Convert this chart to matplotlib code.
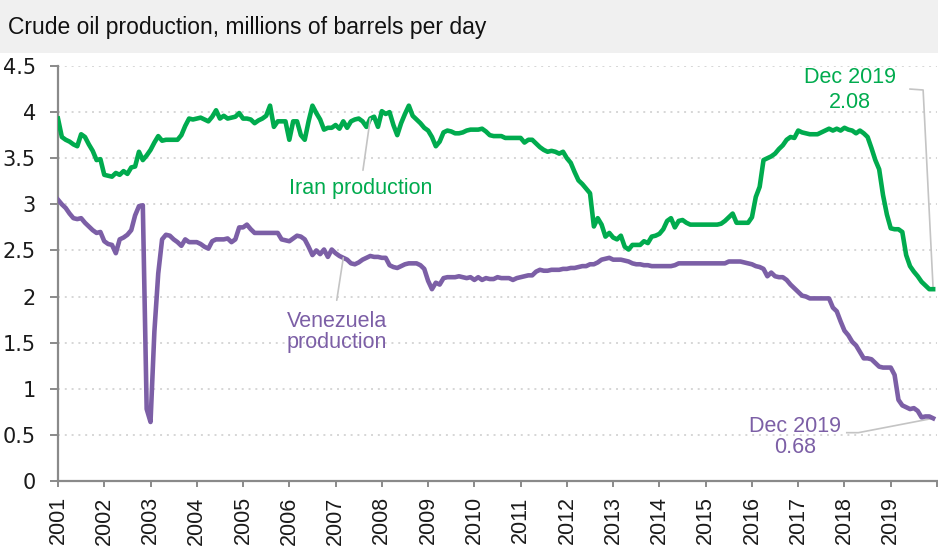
import numpy as np
import matplotlib
matplotlib.use("Agg")
import matplotlib.pyplot as plt
from matplotlib.patches import Rectangle

# %% data: monthly crude oil production, Jan 2001 - Dec 2019 (million barrels/day)
years = list(range(2001, 2020))

iran = [
    3.93, 3.73, 3.70, 3.68, 3.65, 3.63, 3.76, 3.73, 3.65, 3.58, 3.48, 3.49,  # 2001
    3.32, 3.31, 3.30, 3.34, 3.32, 3.36, 3.33, 3.40, 3.41, 3.57, 3.48, 3.53,  # 2002
    3.59, 3.67, 3.74, 3.69, 3.70, 3.70, 3.70, 3.70, 3.75, 3.85, 3.93, 3.92,  # 2003
    3.93, 3.94, 3.92, 3.90, 3.95, 4.02, 3.93, 3.96, 3.93, 3.94, 3.95, 3.99,  # 2004
    3.93, 3.93, 3.92, 3.88, 3.91, 3.93, 3.96, 4.07, 3.84, 3.90, 3.90, 3.90,  # 2005
    3.70, 3.90, 3.90, 3.75, 3.70, 3.90, 4.07, 3.99, 3.92, 3.81, 3.83, 3.83,  # 2006
    3.86, 3.82, 3.90, 3.83, 3.90, 3.92, 3.93, 3.90, 3.84, 3.93, 3.95, 3.84,  # 2007
    4.01, 3.98, 4.00, 3.86, 3.75, 3.88, 3.98, 4.07, 3.96, 3.92, 3.88, 3.83,  # 2008
    3.80, 3.73, 3.63, 3.68, 3.78, 3.80, 3.79, 3.77, 3.77, 3.78, 3.80, 3.81,  # 2009
    3.81, 3.81, 3.82, 3.79, 3.75, 3.74, 3.74, 3.74, 3.72, 3.72, 3.72, 3.72,  # 2010
    3.72, 3.67, 3.70, 3.70, 3.66, 3.62, 3.59, 3.57, 3.58, 3.57, 3.55, 3.57,  # 2011
    3.50, 3.45, 3.35, 3.26, 3.22, 3.17, 3.12, 2.76, 2.85, 2.78, 2.65, 2.69,  # 2012
    2.64, 2.62, 2.66, 2.54, 2.51, 2.56, 2.56, 2.56, 2.60, 2.58, 2.65, 2.66,  # 2013
    2.68, 2.73, 2.82, 2.85, 2.75, 2.82, 2.83, 2.80, 2.78, 2.78, 2.78, 2.78,  # 2014
    2.78, 2.78, 2.78, 2.78, 2.79, 2.82, 2.86, 2.90, 2.80, 2.80, 2.80, 2.80,  # 2015
    2.86, 3.08, 3.19, 3.48, 3.50, 3.52, 3.55, 3.60, 3.64, 3.70, 3.73, 3.72,  # 2016
    3.80, 3.78, 3.77, 3.76, 3.76, 3.76, 3.78, 3.80, 3.82, 3.80, 3.82, 3.80,  # 2017
    3.83, 3.81, 3.80, 3.77, 3.80, 3.77, 3.73, 3.61, 3.48, 3.38, 3.10, 2.89,  # 2018
    2.74, 2.73, 2.73, 2.70, 2.45, 2.33, 2.27, 2.22, 2.16, 2.12, 2.08, 2.08,  # 2019
]

venezuela = [
    3.05, 3.00, 2.96, 2.90, 2.85, 2.84, 2.85, 2.80, 2.76, 2.72, 2.69, 2.70,  # 2001
    2.60, 2.57, 2.56, 2.47, 2.62, 2.64, 2.67, 2.72, 2.88, 2.98, 2.99, 0.78,  # 2002
    0.64, 1.62, 2.25, 2.62, 2.67, 2.66, 2.62, 2.59, 2.55, 2.62, 2.59, 2.59,  # 2003
    2.59, 2.57, 2.54, 2.52, 2.60, 2.62, 2.62, 2.62, 2.63, 2.59, 2.62, 2.75,  # 2004
    2.75, 2.78, 2.73, 2.69, 2.69, 2.69, 2.69, 2.69, 2.69, 2.69, 2.62, 2.61,  # 2005
    2.60, 2.63, 2.66, 2.65, 2.62, 2.54, 2.45, 2.50, 2.46, 2.51, 2.43, 2.51,  # 2006
    2.47, 2.44, 2.42, 2.40, 2.36, 2.35, 2.37, 2.40, 2.42, 2.44, 2.43, 2.43,  # 2007
    2.42, 2.42, 2.34, 2.32, 2.31, 2.33, 2.35, 2.36, 2.36, 2.36, 2.34, 2.30,  # 2008
    2.17, 2.08, 2.15, 2.13, 2.20, 2.21, 2.21, 2.21, 2.22, 2.21, 2.20, 2.21,  # 2009
    2.18, 2.21, 2.18, 2.20, 2.19, 2.19, 2.21, 2.20, 2.20, 2.20, 2.18, 2.20,  # 2010
    2.21, 2.22, 2.23, 2.23, 2.27, 2.29, 2.28, 2.28, 2.29, 2.29, 2.29, 2.30,  # 2011
    2.30, 2.31, 2.31, 2.32, 2.33, 2.33, 2.35, 2.35, 2.37, 2.40, 2.41, 2.42,  # 2012
    2.40, 2.40, 2.40, 2.39, 2.38, 2.36, 2.35, 2.35, 2.34, 2.34, 2.33, 2.33,  # 2013
    2.33, 2.33, 2.33, 2.33, 2.34, 2.36, 2.36, 2.36, 2.36, 2.36, 2.36, 2.36,  # 2014
    2.36, 2.36, 2.36, 2.36, 2.36, 2.36, 2.38, 2.38, 2.38, 2.38, 2.37, 2.36,  # 2015
    2.35, 2.33, 2.32, 2.30, 2.22, 2.26, 2.22, 2.21, 2.21, 2.18, 2.13, 2.09,  # 2016
    2.05, 2.01, 2.00, 1.98, 1.98, 1.98, 1.98, 1.98, 1.98, 1.88, 1.84, 1.73,  # 2017
    1.63, 1.58, 1.51, 1.47, 1.40, 1.33, 1.33, 1.32, 1.28, 1.24, 1.23, 1.23,  # 2018
    1.23, 1.15, 0.88, 0.82, 0.80, 0.78, 0.79, 0.76, 0.69, 0.70, 0.70, 0.68,  # 2019
]

y_ticks = [0, 0.5, 1, 1.5, 2, 2.5, 3, 3.5, 4, 4.5]
y_labels = ['0', '0.5', '1', '1.5', '2', '2.5', '3', '3.5', '4', '4.5']

# %% styling
green = '#00ab4e'
purple = '#7c5fa6'
axis_grey = '#8a8a8a'
leader_grey = '#c4c4c4'

months = np.arange(len(iran))

fig = plt.figure(figsize=(9.38, 5.5), dpi=100)
fig.add_artist(Rectangle((0, 1 - 53 / 550), 1, 53 / 550, transform=fig.transFigure,
                         facecolor='#f0f0f0', edgecolor='none', zorder=0))
fig.text(8 / 938, 1 - 34 / 550, 'Crude oil production, millions of barrels per day',
         family='Liberation Sans', fontsize=16.5, color='#111111', va='baseline', ha='left')

ax = fig.add_axes([58 / 938, 1 - 481 / 550, 879 / 938, 415 / 550])

ax.plot(months, iran, color=green, lw=3.3, solid_joinstyle='round', zorder=3)
ax.plot(months, venezuela, color=purple, lw=3.3, solid_joinstyle='round', zorder=3)

ax.set_xlim(0, 12 * len(years))
ax.set_ylim(0, 4.5)

# grid
for yv in y_ticks[1:]:
    ax.axhline(yv, color='#d6d6d6', lw=1.4, ls=(0, (1, 2.5)), zorder=1)

# axes
for s in ['top', 'right']:
    ax.spines[s].set_visible(False)
for s in ['left', 'bottom']:
    ax.spines[s].set_color(axis_grey)
    ax.spines[s].set_linewidth(1.6)

ax.set_yticks(y_ticks)
ax.set_yticklabels(y_labels, family='DejaVu Sans', fontsize=15, color='#1a1a1a')
ax.tick_params(axis='y', length=6, width=1.4, color=axis_grey, pad=10)

ax.set_xticks(np.arange(0, 12 * len(years) + 1, 12))
ax.set_xticklabels([str(y) for y in years] + [''], rotation=90,
                   family='Liberation Sans', fontsize=15.5, color='#1a1a1a')
ax.tick_params(axis='x', length=4, width=1.4, color=axis_grey, pad=7)

# %% annotations
lab = dict(fontsize=15.5, family='Liberation Sans', ha='center', va='baseline')

ax.text(78.6, 3.107, 'Iran production', color=green, **lab)
ax.annotate('', xy=(81, iran[81]), xytext=(79.1, 3.37),
            arrowprops=dict(arrowstyle='-', color=leader_grey, lw=1.2, shrinkA=0, shrinkB=0))

ax.text(72.4, 1.673, 'Venezuela', color=purple, **lab)
ax.text(72.4, 1.439, 'production', color=purple, **lab)
ax.annotate('', xy=(74, venezuela[74]), xytext=(72.3, 1.96),
            arrowprops=dict(arrowstyle='-', color=leader_grey, lw=1.2, shrinkA=0, shrinkB=0))

last = len(iran) - 1
ax.text(205.4, 4.313, 'Dec 2019', color=green, **lab)
ax.text(205.4, 4.042, f'{iran[last]:.2f}', color=green, **lab)
ax.plot([221.0, 224.4, last], [4.25, 4.24, iran[last]], color=leader_grey, lw=1.2,
        zorder=2, clip_on=False)

ax.text(191.2, 0.535, 'Dec 2019', color=purple, **lab)
ax.text(191.2, 0.307, f'{venezuela[last]:.2f}', color=purple, **lab)
ax.plot([204.6, 207.6, last], [0.524, 0.524, venezuela[last]], color=leader_grey, lw=1.2,
        zorder=2, clip_on=False)

fig.savefig('out.png', dpi=100, facecolor='white')
